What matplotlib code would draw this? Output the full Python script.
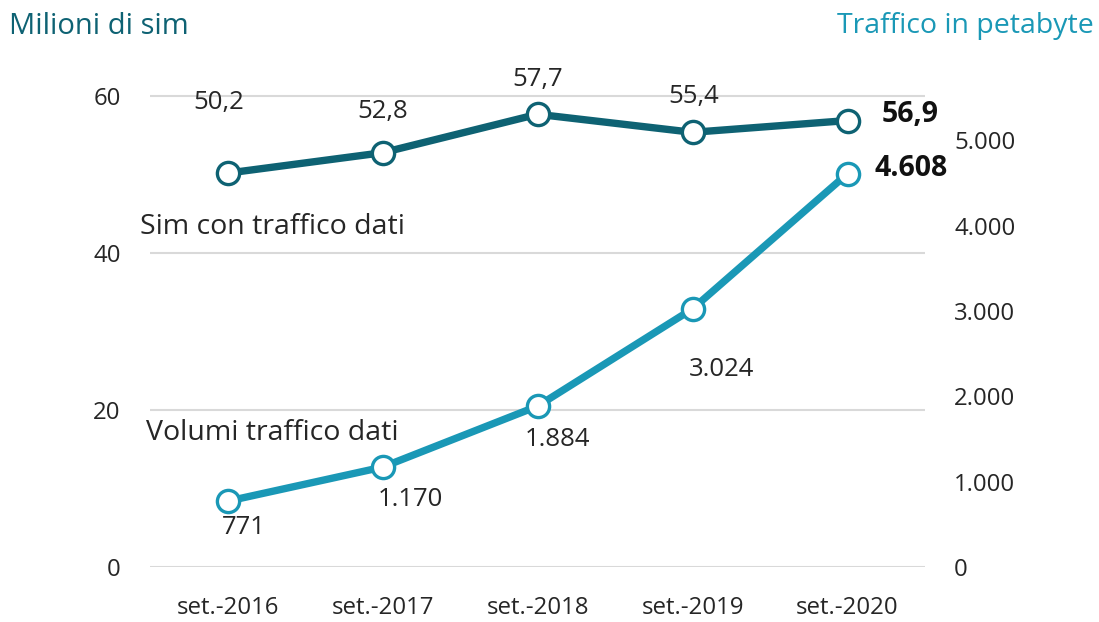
import matplotlib
matplotlib.use("Agg")
import matplotlib.pyplot as plt

categories = ["set.-2016", "set.-2017", "set.-2018", "set.-2019", "set.-2020"]
sim_values = [50.2, 52.8, 57.7, 55.4, 56.9]
sim_labels = ["50,2", "52,8", "57,7", "55,4", "56,9"]
traffic_values = [771, 1170, 1884, 3024, 4608]
traffic_labels = ["771", "1.170", "1.884", "3.024", "4.608"]
left_ticks = [0, 20, 40, 60]
right_ticks = [0, 1000, 2000, 3000, 4000, 5000]
right_tick_labels = ["0", "1.000", "2.000", "3.000", "4.000", "5.000"]

DARK = "#0e6273"
LIGHT = "#1a98b6"
FONT = ["Open Sans", "DejaVu Sans"]
plt.rcParams["font.family"] = FONT

fig = plt.figure(figsize=(10.99, 6.22), dpi=100)
ax = fig.add_axes([0.1365, 0.0884, 0.7052, 0.8326])
ax2 = ax.twinx()

ltop = 66
ax.set_ylim(0, ltop)
ax2.set_ylim(0, ltop * 5515 / 60)
ax.set_xlim(-0.5, 4.5)

x = list(range(len(categories)))
ax.plot(x, sim_values, color=DARK, lw=5.3, marker="o", ms=16, mfc="white",
        mec=DARK, mew=2.4, zorder=5, clip_on=False)
ax2.plot(x, traffic_values, color=LIGHT, lw=5.3, marker="o", ms=16, mfc="white",
         mec=LIGHT, mew=2.4, zorder=5, clip_on=False)

ax.set_yticks(left_ticks)
ax.set_yticklabels([str(t) for t in left_ticks])
ax2.set_yticks(right_ticks)
ax2.set_yticklabels(right_tick_labels)
ax.set_xticks(x)
ax.set_xticklabels(categories)

ax.grid(axis="y", color="#d9d9d9", lw=1.5)
ax.set_axisbelow(True)
for a in (ax, ax2):
    for s in a.spines.values():
        s.set_visible(False)
    a.tick_params(length=0, labelsize=17.3, labelcolor="#262626")
ax.tick_params(axis="y", pad=21)
ax.tick_params(axis="x", pad=21)
ax2.tick_params(axis="y", pad=21)

# data labels
sim_offsets = [(-6, 51), (0, 30), (0, 25), (1, 26), (45, 4)]
for i, (v, lab, off) in enumerate(zip(sim_values, sim_labels, sim_offsets)):
    last = i == len(sim_values) - 1
    ax.annotate(lab, (i, v), xytext=off, textcoords="offset points",
                ha="center", va="center", fontsize=20.5 if last else 18.5,
                fontweight="bold" if last else "normal", color="#111111" if last else "#262626")

tr_offsets = [(12, -19), (20, -23), (14, -24), (21, -44), (46, 4)]
for i, (v, lab, off) in enumerate(zip(traffic_values, traffic_labels, tr_offsets)):
    last = i == len(traffic_values) - 1
    ax2.annotate(lab, (i, v), xytext=off, textcoords="offset points",
                 ha="center", va="center", fontsize=20.5 if last else 18.5,
                 fontweight="bold" if last else "normal", color="#111111" if last else "#262626")

fig.text(0.127, 0.635, "Sim con traffico dati", fontsize=20.5, color="#262626", va="center", ha="left")
fig.text(0.133, 0.304, "Volumi traffico dati", fontsize=20.5, color="#262626", va="center", ha="left")

fig.text(0.008, 0.958, "Milioni di sim", fontsize=21, color=DARK, va="center", ha="left")
fig.text(0.995, 0.958, "Traffico in petabyte", fontsize=20.5, color=LIGHT, va="center", ha="right")

fig.savefig("out.png", dpi=100)
